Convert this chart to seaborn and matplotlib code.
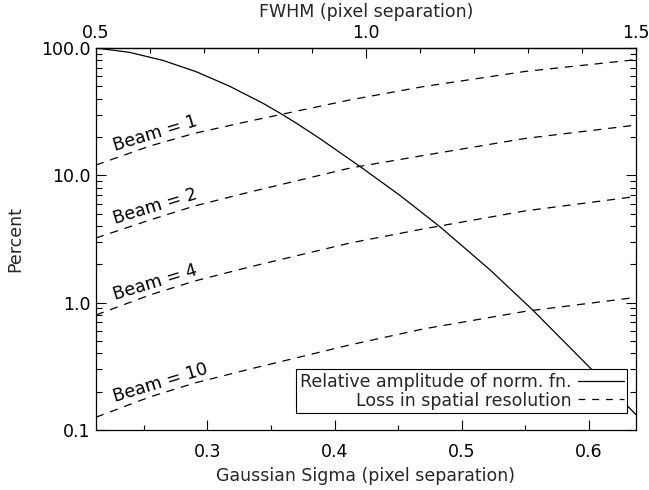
import numpy as np
import pandas as pd
import matplotlib
matplotlib.use("Agg")
import matplotlib.pyplot as plt
import seaborn as sns
from matplotlib.ticker import FixedLocator, FixedFormatter, NullFormatter, LogLocator
from matplotlib.lines import Line2D

# ---- data ----
sigma_amp = [0.2123, 0.2385, 0.2648, 0.2910, 0.3172, 0.3434, 0.3570, 0.3696, 0.3885,
             0.4212, 0.4514, 0.4829, 0.5222, 0.5563, 0.6008, 0.6370]
amp_pct = [100.0, 92.5, 80.0, 65.2, 50.2, 36.9, 30.8, 25.8, 19.4,
           11.5, 6.95, 3.94, 1.81, 0.865, 0.308, 0.132]

sigma_loss = [0.2123, 0.2548, 0.2900, 0.3334, 0.4120, 0.4694, 0.5500, 0.6370]
loss_beam1 = [12.05, 17.0, 21.4, 26.7, 39.1, 49.7, 65.5, 81.0]
loss_beam2 = [3.22, 4.46, 5.75, 7.4, 11.4, 14.3, 19.5, 24.8]
loss_beam4 = [0.80, 1.15, 1.48, 1.91, 2.94, 3.79, 5.26, 6.82]
loss_beam10 = [0.126, 0.182, 0.234, 0.301, 0.466, 0.621, 0.855, 1.10]
beam_sizes = [1, 2, 4, 10]

y_ticks = [0.1, 1.0, 10.0, 100.0]
y_ticklabels = ["0.1", "1.0", "10.0", "100.0"]
x_ticks = [0.3, 0.4, 0.5, 0.6]
x_ticklabels = ["0.3", "0.4", "0.5", "0.6"]
fwhm_ticks = [0.5, 1.0, 1.5]
fwhm_ticklabels = ["0.5", "1.0", "1.5"]
FWHM_FACTOR = 2.35482

legend_labels = ["Relative amplitude of norm. fn.", "Loss in spatial resolution"]

# ---- style ----
sns.set_style("ticks")
plt.rcParams["font.family"] = ["DejaVu Sans"]
FS = 12.5
plt.rcParams["font.size"] = FS

fig = plt.figure(figsize=(6.49, 4.90), dpi=100)
ax = fig.add_axes([96 / 649, 1 - 430 / 490, 540 / 649, 382 / 490])

amp_df = pd.DataFrame({"sigma": sigma_amp, "pct": amp_pct})
sns.lineplot(data=amp_df, x="sigma", y="pct", ax=ax, color="black", lw=0.9,
             sort=False, estimator=None)

loss_series = [loss_beam1, loss_beam2, loss_beam4, loss_beam10]
for b, vals in zip(beam_sizes, loss_series):
    df = pd.DataFrame({"sigma": sigma_loss, "pct": vals})
    sns.lineplot(data=df, x="sigma", y="pct", ax=ax, color="black", lw=0.9,
                 sort=False, estimator=None)
    ax.lines[-1].set_dashes((6.5, 5.5))
    ax.annotate(f"Beam = {b}", xy=(0.2270, np.interp(0.2270, sigma_loss, vals)),
                xytext=(0, 5), textcoords="offset points",
                rotation=17, rotation_mode="anchor", ha="left", va="baseline",
                fontsize=FS, color="black")

ax.set_yscale("log")
ax.set_xlim(0.5 / FWHM_FACTOR, 1.5 / FWHM_FACTOR)
ax.set_ylim(0.1, 100)

ax.yaxis.set_major_locator(FixedLocator(y_ticks))
ax.yaxis.set_major_formatter(FixedFormatter(y_ticklabels))
ax.yaxis.set_minor_locator(LogLocator(base=10, subs=np.arange(2, 10)))
ax.yaxis.set_minor_formatter(NullFormatter())

ax.xaxis.set_major_locator(FixedLocator(x_ticks))
ax.xaxis.set_major_formatter(FixedFormatter(x_ticklabels))
ax.xaxis.set_minor_locator(FixedLocator([0.25, 0.35, 0.45, 0.55]))

ax.tick_params(axis="both", which="both", direction="in", top=False, right=True,
               colors="black", labelsize=FS)
ax.tick_params(axis="x", which="major", length=7, width=0.8, pad=9)
ax.tick_params(axis="x", which="minor", length=3.5, width=0.8)
ax.tick_params(axis="y", which="major", length=7, width=0.8, pad=4)
ax.tick_params(axis="y", which="minor", length=4.5, width=0.8)

for s in ax.spines.values():
    s.set_color("black")
    s.set_linewidth(0.9)

ax.set_xlabel("Gaussian Sigma (pixel separation)", fontsize=FS, labelpad=5)
ax.set_ylabel("Percent", fontsize=FS, labelpad=12)

secax = ax.secondary_xaxis("top", functions=(lambda s: s * FWHM_FACTOR,
                                             lambda f: f / FWHM_FACTOR))
secax.xaxis.set_major_locator(FixedLocator(fwhm_ticks))
secax.xaxis.set_major_formatter(FixedFormatter(fwhm_ticklabels))
secax.xaxis.set_minor_locator(FixedLocator(np.round(np.arange(0.6, 1.5, 0.1), 2)))
secax.tick_params(axis="x", which="both", direction="in", colors="black", labelsize=FS)
secax.tick_params(axis="x", which="major", length=7, width=0.8, pad=4)
secax.tick_params(axis="x", which="minor", length=3.5, width=0.8)
secax.set_xlabel("FWHM (pixel separation)", fontsize=FS, labelpad=5)
secax.spines["top"].set_linewidth(0.9)

handles = [Line2D([], [], color="black", lw=0.9),
           Line2D([], [], color="black", lw=0.9, dashes=(5.5, 5.5))]
leg = ax.legend(handles=handles, labels=legend_labels, loc="lower right",
                bbox_to_anchor=((627 - 96) / 540, (430 - 413) / 382),
                borderaxespad=0, markerfirst=False, fancybox=False,
                frameon=True, framealpha=1, edgecolor="black", fontsize=FS,
                handlelength=2.6, handletextpad=0.4, borderpad=0.2,
                labelspacing=0.05)
leg.get_frame().set_linewidth(0.8)

fig.savefig("out.png", dpi=100)
